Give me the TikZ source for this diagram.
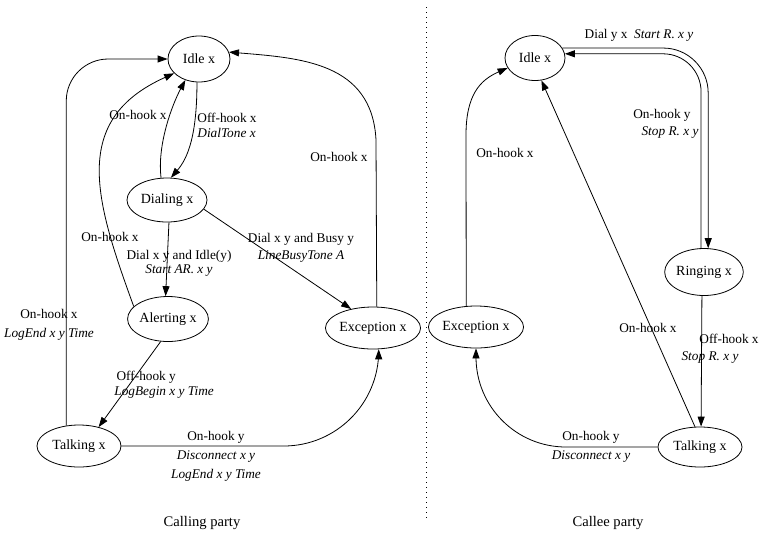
\documentclass[tikz,border=0pt]{standalone}
\usepackage{fontspec}
\setmainfont{Liberation Serif}
\usepackage{tikz}
\usetikzlibrary{arrows.meta, shapes}

\begin{document}
\begin{tikzpicture}[x=1pt, y=-1pt,
        state/.style={ellipse, draw, inner sep=0pt, minimum height=44, font=\fontsize{14}{16}\selectfont},
        lbl/.style={inner sep=0pt, align=center, font=\fontsize{13.3}{15}\selectfont},
        party/.style={inner sep=0pt, font=\fontsize{14.6}{16}\selectfont},
        arrow/.style={->, >={Triangle[length=10pt, width=7pt]}},
        line width=0.8pt
        ]
        \useasboundingbox (0,0) rectangle (759,533);

        \node[state, minimum width=62, minimum height=46] (lidle) at (199,59) {Idle x};
        \node[state, minimum width=80] (ldial) at (167,200) {Dialing x};
        \node[state, minimum width=78, minimum height=45] (lalert) at (168,319) {Alerting x};
        \node[state, minimum width=86, minimum height=42] (lexc) at (373,328) {Exception x};
        \node[state, minimum width=84, minimum height=42] (ltalk) at (79,446) {Talking x};

        \node[state, minimum width=60, minimum height=45] (ridle) at (535,58) {Idle x};
        \node[state, minimum width=75, minimum height=47] (rring) at (704,272) {Ringing x};
        \node[state, minimum width=87, minimum height=42] (rexc) at (476,327) {Exception x};
        \node[state, minimum width=84, minimum height=40] (rtalk) at (700,447) {Talking x};

        \draw[arrow, rounded corners=42] (ltalk.122) |- (lidle.west);
        \draw[arrow] (lalert.160) .. controls (95,200) and (70,120) .. (lidle.210);
        \draw[arrow] (ldial.105) .. controls (157,145) and (172,105) .. (lidle.237);
        \draw[arrow] (lidle.265) .. controls (197,135) and (188,158) .. (ldial.80);
        \draw[arrow] (lexc.80) -- (376,140) .. controls (372,62) and (300,58) .. (lidle.13);
        \draw[arrow] (ldial.-14) -- (lexc.139);
        \draw[arrow] (ldial.275) -- (lalert.96);
        \draw[arrow] (lalert.252) -- (ltalk.44);
        \draw[arrow, <-, rounded corners=95] (lexc.285) |- (ltalk.east);

        \draw[arrow, rounded corners=45] (ridle.20) -| (rring.80);
        \draw[arrow, rounded corners=38] (rring.97) |- (ridle.8);
        \draw[arrow] (rexc.115) -- (466,135) .. controls (466,95) and (480,80) .. (ridle.200);
        \draw[arrow] (rtalk.104) -- (ridle.286);
        \draw[arrow] (rring.265) -- (rtalk.87);
        \draw[arrow, <-, rounded corners=90] (rexc.south) |- (rtalk.west);

        \node[lbl] (lonhooka) at (49,325) {On-hook x\\[4pt]\textit{LogEnd x y Time}};
        \node[lbl] (lonhookb) at (110,237) {On-hook x};
        \node[lbl] (lonhookc) at (138,115) {On-hook x};
        \node[lbl, align=left, anchor=west] (loffhookx) at (197,125.5) {Off-hook x\\\textit{DialTone x}};
        \node[lbl] (lonhookd) at (339,157) {On-hook x};
        \node[lbl] (lbusy) at (301,247.5) {Dial x y and Busy y\\[2pt]\textit{LineBusyTone A}};
        \node[lbl] (lidlelbl) at (179,263) {Dial x y and Idle(y)\\[-1pt]\textit{Start AR. x y}};
        \node[lbl, align=left, anchor=west] (loffhooky) at (114,384.5) {\,Off-hook y\\\textit{LogBegin x y Time}};
        \node[lbl] (lonhooky) at (216,456) {On-hook y\\[4pt]\textit{Disconnect x y}\\[4pt]\textit{LogEnd x y Time}};

        \node[lbl] (rdial) at (639,35) {Dial y x~~\textit{Start R. x y}};
        \node[lbl] (ronhooky) at (662,115) {On-hook y};
        \node[lbl] (rstopa) at (670,133) {\textit{Stop R. x y}};
        \node[lbl] (ronhookx) at (505,153) {On-hook x};
        \node[lbl] (ronhookxb) at (648,328) {On-hook x};
        \node[lbl] (roffhook) at (729,339) {Off-hook x};
        \node[lbl] (rstopb) at (710,358) {\textit{Stop R. x y}};
        \node[lbl] (ronhookyb) at (591,446.5) {On-hook y\\[4pt]\textit{Disconnect x y}};

        \draw[line width=0.9pt, dash pattern=on 1.2pt off 3.8pt] (426,7) -- (426,518);

        \node[party] (calling) at (202,523) {Calling party};
        \node[party] (callee) at (608,523) {Callee party};
\end{tikzpicture}
\end{document}
